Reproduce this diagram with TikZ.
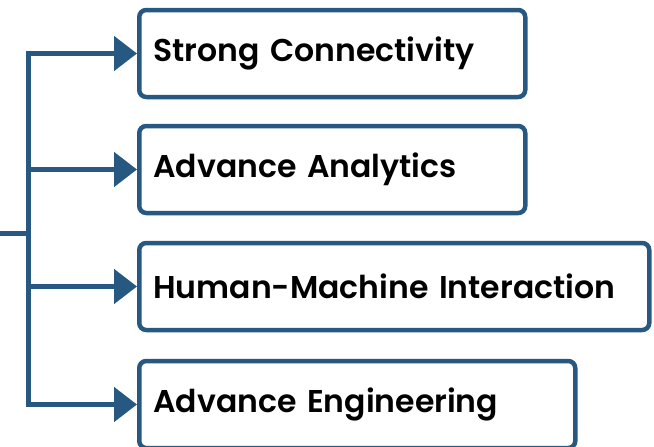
\documentclass[tikz,border=0pt]{standalone}
\usepackage{fontspec}
\setmainfont{Poppins}[BoldFont={Poppins SemiBold}]
\usetikzlibrary{arrows.meta}
\definecolor{navy}{RGB}{38,88,130}
\tikzset{
  item/.style={draw=navy, line width=4.5pt, rounded corners=7pt, fill=white,
    minimum height=87pt, inner xsep=14pt, align=left, anchor=west,
    font=\fontsize{31.5}{36}\selectfont\bfseries, text=black},
  conn/.style={draw=navy, line width=5pt, line join=miter},
  tip/.style={-{Triangle[length=23pt,width=34pt]}}
}
\begin{document}
\begin{tikzpicture}[x=1pt,y=-1pt]
\useasboundingbox (0,0) rectangle (654,447);
\node[item, text width=358pt] (b1) at (137,53.5) {Strong Connectivity};
\node[item, text width=358pt] (b2) at (137,169.5) {Advance Analytics};
\node[item, text width=482pt] (b3) at (137,286.5) {Human-Machine Interaction};
\node[item, text width=408pt] (b4) at (137,404.5) {Advance Engineering};
\coordinate (root) at (0,233);
\coordinate (trunk) at (28,233);
\draw[conn] (root) -- (trunk);
\draw[conn,tip] (trunk) |- (b1.west);
\draw[conn,tip] (trunk) |- (b2.west);
\draw[conn,tip] (trunk) |- (b3.west);
\draw[conn,tip] (trunk) |- (b4.west);
\end{tikzpicture}
\end{document}
